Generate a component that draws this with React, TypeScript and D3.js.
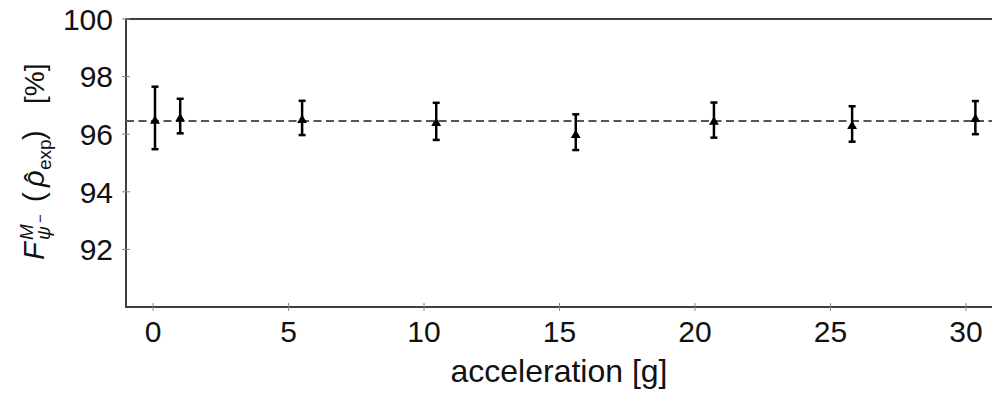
import React from "react";
import * as d3 from "d3";

// measured accelerations [g]
const accel = [0.07, 1.0, 5.5, 10.45, 15.6, 20.7, 25.8, 30.35];
// fidelity values [%] with lower / upper error bounds
const fidelity = [96.46, 96.54, 96.49, 96.38, 95.97, 96.43, 96.28, 96.52];
const errLow = [95.48, 96.03, 95.97, 95.8, 95.45, 95.88, 95.74, 96.0];
const errHigh = [97.65, 97.23, 97.16, 97.09, 96.69, 97.1, 96.97, 97.15];
// mean fidelity (dashed reference line)
const meanFidelity = [96.46];

const xTicks = [0, 5, 10, 15, 20, 25, 30];
const yTicks = [92, 94, 96, 98, 100];

const W = 992;
const H = 399;
const font = "'Liberation Sans', Arial, sans-serif";

const App = () => {
  const x = d3.scaleLinear().domain([-1, 31]).range([126, 993]);
  const y = d3.scaleLinear().domain([90, 100]).range([307, 19]);

  const tri = d3.symbol().type(d3.symbolTriangle).size(42)();
  const capW = 3.5;

  return (
    <div style={{ position: "absolute", left: 0, top: 0 }}>
      <svg width={W} height={H} style={{ display: "block", background: "#fff" }}>
        {/* frame: left, bottom, top */}
        <line x1={x(-1)} x2={x(-1)} y1={y(100)} y2={y(90)} stroke="#404040" strokeWidth={2} />
        <line x1={x(-1) - 1} x2={W} y1={y(90)} y2={y(90)} stroke="#404040" strokeWidth={2} />
        <line x1={x(-1) - 1} x2={W} y1={y(100)} y2={y(100)} stroke="#404040" strokeWidth={2} />

        {/* y ticks */}
        {yTicks.map((t) => (
          <g key={"y" + t}>
            <line x1={x(-1) - 4} x2={x(-1) + 4} y1={y(t)} y2={y(t)} stroke="#888" strokeWidth={1} />
            <text x={113} y={y(t)} dy="0.36em" textAnchor="end" fontFamily={font} fontSize={30} fill="#111">
              {t}
            </text>
          </g>
        ))}

        {/* x ticks */}
        {xTicks.map((t) => (
          <g key={"x" + t}>
            <line x1={x(t)} x2={x(t)} y1={y(90) - 4} y2={y(90) + 4} stroke="#888" strokeWidth={1} />
            <text x={x(t)} y={342} textAnchor="middle" fontFamily={font} fontSize={30} fill="#111">
              {t}
            </text>
          </g>
        ))}

        {/* dashed mean line */}
        {meanFidelity.map((m, i) => (
          <line key={"m" + i} x1={x(-1)} x2={W} y1={y(m)} y2={y(m)} stroke="#555" strokeWidth={2} strokeDasharray="8,4.5" />
        ))}

        {/* error bars + markers */}
        {accel.map((a, i) => {
          const cx = x(a);
          return (
            <g key={"p" + i} stroke="#000">
              <line x1={cx} x2={cx} y1={y(errLow[i])} y2={y(errHigh[i])} strokeWidth={2.5} />
              <line x1={cx - capW} x2={cx + capW} y1={y(errLow[i])} y2={y(errLow[i])} strokeWidth={2.5} />
              <line x1={cx - capW} x2={cx + capW} y1={y(errHigh[i])} y2={y(errHigh[i])} strokeWidth={2.5} />
              <path d={tri ?? ""} transform={`translate(${cx},${y(fidelity[i])})`} fill="#000" stroke="none" />
            </g>
          );
        })}

        {/* axis labels */}
        <text x={559} y={382} textAnchor="middle" fontFamily={font} fontSize={32} fill="#111">
          acceleration [g]
        </text>
        <g transform="translate(44,260) rotate(-90)" fontFamily={font} fill="#111">
          <text x={0} y={0} fontSize={29} fontStyle="italic">F</text>
          <text x={20} y={-11} fontSize={19} fontStyle="italic">M</text>
          <text x={20} y={6} fontSize={19} fontStyle="italic">ψ</text>
          <text x={37} y={1} fontSize={15}>−</text>
          <text x={58} y={0} fontSize={29}>(</text>
          <text x={73} y={0} fontSize={29} fontStyle="italic">ρ</text>
          <text x={78} y={1} fontSize={29}>ˆ</text>
          <text x={90} y={7} fontSize={19}>exp</text>
          <text x={120} y={0} fontSize={29}>)</text>
          <text x={156} y={0} fontSize={28}>[%]</text>
        </g>
      </svg>
    </div>
  );
};

export default App;
